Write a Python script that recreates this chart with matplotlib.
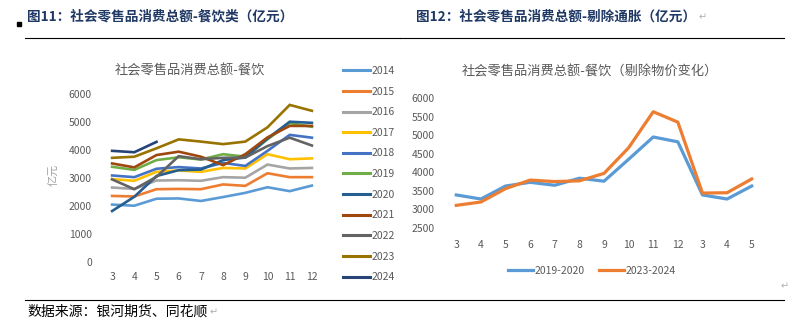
import matplotlib.pyplot as plt
from matplotlib.lines import Line2D

plt.rcParams["font.family"] = ["Noto Sans CJK SC", "DejaVu Sans"]

# 左图：社会零售品消费总额-餐饮（亿元），3~12月
MONTHS = ["3", "4", "5", "6", "7", "8", "9", "10", "11", "12"]

YEARS: list[str] = ["2014", "2015", "2016", "2017", "2018", "2019",
                    "2020", "2021", "2022", "2023", "2024"]

v2014 = [2050, 2010, 2260, 2270, 2180, 2320, 2470, 2670, 2530, 2730]
v2015 = [2360, 2340, 2600, 2610, 2600, 2770, 2720, 3170, 3030, 3030]
v2016 = [2660, 2610, 2910, 2920, 2900, 3030, 3010, 3480, 3340, 3360]
v2017 = [2960, 2900, 3220, 3270, 3220, 3360, 3340, 3850, 3670, 3700]
v2018 = [3090, 3030, 3330, 3390, 3340, 3540, 3430, 3970, 4540, 4440]
v2019 = [3400, 3290, 3640, 3740, 3660, 3850, 3760, 4380, 4960, 4830]
v2020 = [1820, 2330, 3070, 3280, 3300, 3640, 3730, 4410, 5010, 4970]
v2021 = [3520, 3380, 3820, 3940, 3760, 3460, 3850, 4450, 4860, 4860]
v2022 = [2950, 2600, 3040, 3780, 3670, 3720, 3730, 4140, 4440, 4160]
v2023 = [3720, 3760, 4060, 4380, 4300, 4210, 4300, 4810, 5610, 5400]
v2024 = [3970, 3920, 4290]

# 右图：剔除物价变化
MONTHS_R = ["3", "4", "5", "6", "7", "8", "9", "10", "11", "12", "3", "4", "5"]
v1920 = [3390, 3280, 3630, 3730, 3650, 3840, 3760, 4350, 4950, 4820, 3390, 3280, 3630]
v2324 = [3110, 3200, 3560, 3790, 3750, 3770, 3970, 4660, 5630, 5350, 3440, 3450, 3820]

COLORS = ["#5B9BD5", "#ED7D31", "#A5A5A5", "#FFC000", "#4472C4", "#70AD47",
          "#255E91", "#9E480E", "#636363", "#997300", "#264478"]

GRAY = "#595959"
NAVY = "#1F3864"
MARK = "#B0B0B0"


def style_axis(ax) -> None:
    for s in ax.spines.values():
        s.set_visible(False)
    ax.tick_params(length=0, colors=GRAY, labelsize=7.5)


fig = plt.figure(figsize=(8.02, 3.32), dpi=100)
W, H = 802, 332


def px_axes(x0, y0, x1, y1):
    return fig.add_axes([x0 / W, 1 - y1 / H, (x1 - x0) / W, (y1 - y0) / H])


def para_mark(txt) -> None:
    # Word 段落标记，紧跟在文字后面
    fig.add_artist(plt.Annotation("↵", xy=(1, 0.45), xycoords=txt,
                                  xytext=(1.5, 0), textcoords="offset points",
                                  ha="left", va="center", color=MARK, fontsize=7))


# ---- 左图 ----
ax1 = px_axes(101, 94, 323, 262)
series = [v2014, v2015, v2016, v2017, v2018, v2019, v2020, v2021, v2022, v2023, v2024]
for year, vals, c in zip(YEARS, series, COLORS):
    ax1.plot(range(len(vals)), vals, color=c, lw=1.9, label=year,
             solid_joinstyle="miter")
ax1.set_xlim(-0.5, len(MONTHS) - 0.5)
ax1.set_ylim(0, 6000)
ax1.set_yticks(range(0, 6001, 1000))
ax1.set_xticks(range(len(MONTHS)))
ax1.set_xticklabels(MONTHS)
style_axis(ax1)
ax1.tick_params(axis="y", pad=6.5)
ax1.tick_params(axis="x", pad=7)

handles = [Line2D([], [], color=c, lw=2.2) for c in COLORS]
fig.legend(handles, YEARS, loc="upper left", bbox_to_anchor=(343 / W, 1 - 66 / H),
           frameon=False, fontsize=7.5, labelcolor=GRAY, handlelength=2.6,
           handletextpad=0.15, labelspacing=1.02, borderaxespad=0, borderpad=0)

fig.text(53 / W, 1 - 175 / H, "亿元", rotation=90, ha="center", va="center",
         color="#A0A0A0", fontsize=8)
fig.text(190 / W, 1 - 71 / H, "社会零售品消费总额-餐饮", ha="center", va="center",
         color=GRAY, fontsize=9.5)

# ---- 右图 ----
ax2 = px_axes(444, 98, 764, 228)
ax2.plot(range(len(v1920)), v1920, color="#5B9BD5", lw=2.3, label="2019-2020")
ax2.plot(range(len(v2324)), v2324, color="#ED7D31", lw=2.3, label="2023-2024")
ax2.set_xlim(-0.5, len(MONTHS_R) - 0.5)
ax2.set_ylim(2500, 6000)
ax2.set_yticks(range(2500, 6001, 500))
ax2.set_xticks(range(len(MONTHS_R)))
ax2.set_xticklabels(MONTHS_R)
style_axis(ax2)
ax2.tick_params(axis="y", pad=6.5)
ax2.tick_params(axis="x", pad=9)
ax2.legend(loc="center", bbox_to_anchor=(592 / W, 1 - 271 / H),
           bbox_transform=fig.transFigure, ncol=2, frameon=False, fontsize=7.5,
           labelcolor=GRAY, handlelength=2.4, handletextpad=0.15,
           columnspacing=1.4)

fig.text(590 / W, 1 - 72 / H, "社会零售品消费总额-餐饮（剔除物价变化）", ha="center",
         va="center", color=GRAY, fontsize=9.5)

# ---- 标题、分隔线与来源 ----
fig.text(27 / W, 1 - 17 / H, "图11：社会零售品消费总额-餐饮类（亿元）", ha="left",
         va="center", color=NAVY, fontsize=9.8, fontweight="bold")
h12 = fig.text(416 / W, 1 - 17 / H, "图12：社会零售品消费总额-剔除通胀（亿元）", ha="left",
               va="center", color=NAVY, fontsize=9.8, fontweight="bold")
para_mark(h12)
fig.patches.append(plt.Rectangle((17 / W, 1 - 26 / H), 4 / W, 4 / H,
                                 transform=fig.transFigure, color="black"))

fig.add_artist(Line2D([25 / W, 400 / W], [1 - 38 / H, 1 - 38 / H], color="black", lw=0.8))
fig.add_artist(Line2D([400 / W, 784 / W], [1 - 38 / H, 1 - 38 / H], color="black", lw=0.8))
fig.add_artist(Line2D([25 / W, 784 / W], [1 - 300 / H, 1 - 300 / H], color="black", lw=0.8))

src = fig.text(27 / W, 1 - 312 / H, "数据来源：银河期货、同花顺", ha="left", va="center",
               color="black", fontsize=10)
para_mark(src)
fig.text(781 / W, 1 - 286 / H, "↵", ha="left", va="center", color=MARK, fontsize=7)

fig.savefig("out.png", dpi=100)
